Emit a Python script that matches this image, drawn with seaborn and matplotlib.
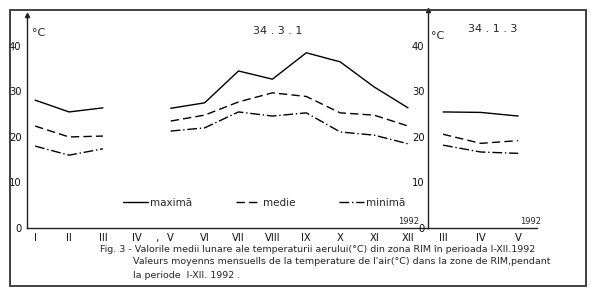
import seaborn as sns
import matplotlib.pyplot as plt
import matplotlib.font_manager as fm
from matplotlib.lines import Line2D
from matplotlib.patches import Rectangle
import pandas as pd
import numpy as np

# Datos (°C)
luni = ['I', 'II', 'III', 'IV', 'V', 'VI', 'VII', 'VIII', 'IX', 'X', 'XI', 'XII']
maxima = [28.1, 25.5, 26.4, np.nan, 26.3, 27.5, 34.5, 32.7, 38.5, 36.5, 31.0, 26.4]
medie = [22.4, 20.0, 20.2, np.nan, 23.5, 24.8, 27.7, 29.7, 28.9, 25.3, 24.8, 22.4]
minima = [18.0, 16.0, 17.4, np.nan, 21.3, 22.0, 25.5, 24.6, 25.3, 21.1, 20.4, 18.5]

luni_2 = ['III', 'IV', 'V']
maxima_2 = [25.5, 25.4, 24.6]
medie_2 = [20.6, 18.6, 19.2]
minima_2 = [18.2, 16.7, 16.4]

y_ticks = [0, 10, 20, 30, 40]

sns.set_style('white')
disponibles = {f.name for f in fm.fontManager.ttflist}
familia = ['DejaVu Sans']
for nombre in ['DejaVu Sans Condensed', 'Liberation Sans Narrow']:
    if nombre in disponibles:
        familia = [nombre, 'DejaVu Sans']
        break
plt.rcParams['font.family'] = familia

estilos = {'maximă': '-', 'medie': (0, (6, 3)), 'minimă': (0, (7, 2, 1, 2))}


def tabla(x0, series):
    # Tabla larga; un NaN corta la linea en segmentos
    filas = []
    seg = 0
    n = len(series['maximă'])
    for i in range(n):
        if np.isnan(series['maximă'][i]):
            seg += 1
            continue
        for nombre, vals in series.items():
            filas.append({'x': x0 + i, 'temp': vals[i], 'serie': nombre, 'seg': seg})
    return pd.DataFrame(filas)


df1 = tabla(1, {'maximă': maxima, 'medie': medie, 'minimă': minima})
df2 = tabla(3, {'maximă': maxima_2, 'medie': medie_2, 'minimă': minima_2})

fig = plt.figure(figsize=(6, 2.98), dpi=100)
ax1 = fig.add_axes([27 / 600, 70 / 298, 401 / 600, 213 / 298])
ax2 = fig.add_axes([428 / 600, 70 / 298, 109 / 600, 218 / 298])

for ax, df in [(ax1, df1), (ax2, df2)]:
    for nombre, ls in estilos.items():
        sns.lineplot(data=df[df['serie'] == nombre], x='x', y='temp', units='seg',
                     estimator=None, color='black', linewidth=1.0,
                     linestyle=ls, ax=ax, legend=False)

for ax, etiquetas, x0 in [(ax1, luni, 1), (ax2, luni_2, 3)]:
    ax.set_xticks(range(x0, x0 + len(etiquetas)))
    ax.set_xticklabels(etiquetas)
    ax.set_yticks(y_ticks)
    ax.set_xlabel('')
    ax.set_ylabel('')
    ax.patch.set_alpha(0)
    for s in ['top', 'right']:
        ax.spines[s].set_visible(False)
    for s in ['left', 'bottom']:
        ax.spines[s].set_color('#222222')
        ax.spines[s].set_linewidth(1.0)
    ax.tick_params(axis='both', labelsize=7.2, length=2.5, width=0.8,
                   direction='out', pad=1.5, colors='#111111')
    ax.tick_params(axis='x', pad=1)
    ax.plot(0, 1, marker='^', color='#222222', ms=3, transform=ax.transAxes, clip_on=False)

ax2.tick_params(axis='y', pad=0.5, length=2)

ax1.set_xlim(0.76, 12.59)
ax1.set_ylim(0, 46.8)
ax2.set_xlim(2.6, 5.5)
ax2.set_ylim(0, 47.9)

# Titulos de los paneles y unidades
ax1.text(0.626, 0.925, '34 . 3 . 1', transform=ax1.transAxes, ha='center', va='center', fontsize=8)
ax2.text(0.59, 0.915, '34 . 1 . 3', transform=ax2.transAxes, ha='center', va='center', fontsize=8)
ax1.text(0.012, 0.915, '°C', transform=ax1.transAxes, ha='left', va='center', fontsize=8)
ax2.text(0.03, 0.88, '°C', transform=ax2.transAxes, ha='left', va='center', fontsize=8)
ax1.text(11.72, 0.5, '1992', ha='left', va='bottom', fontsize=6)
ax2.text(5.05, 0.5, '1992', ha='left', va='bottom', fontsize=6)
ax1.text(4.6, -1.2, ',', ha='center', va='top', fontsize=8)

# Leyenda
handles = [Line2D([0], [0], color='black', lw=1.0, linestyle=ls) for ls in estilos.values()]
ax1.legend(handles, list(estilos.keys()), loc='center left', bbox_to_anchor=(0.215, 0.117),
           ncol=3, frameon=False, fontsize=7.5, handlelength=2.4, handletextpad=0.2,
           columnspacing=4.2)

# Leyenda de la figura
fig.text(100 / 600, 1 - 249 / 298,
         'Fig. 3 - Valorile medii lunare ale temperaturii aerului(°C) din zona RIM în perioada I-XII.1992',
         ha='left', va='center', fontsize=6.8)
fig.text(133 / 600, 1 - 262 / 298,
         "Valeurs moyenns mensuells de la temperature de l'air(°C) dans la zone de RIM,pendant",
         ha='left', va='center', fontsize=6.8)
fig.text(133 / 600, 1 - 275 / 298, 'la periode  I-XII. 1992 .', ha='left', va='center', fontsize=6.8)

# Marco exterior
fig.add_artist(Rectangle((10 / 600, 12 / 298), 576 / 600, 276 / 298, transform=fig.transFigure,
                         fill=False, edgecolor='#333333', linewidth=1.3))

fig.savefig('out.png', dpi=100)
plt.close()
